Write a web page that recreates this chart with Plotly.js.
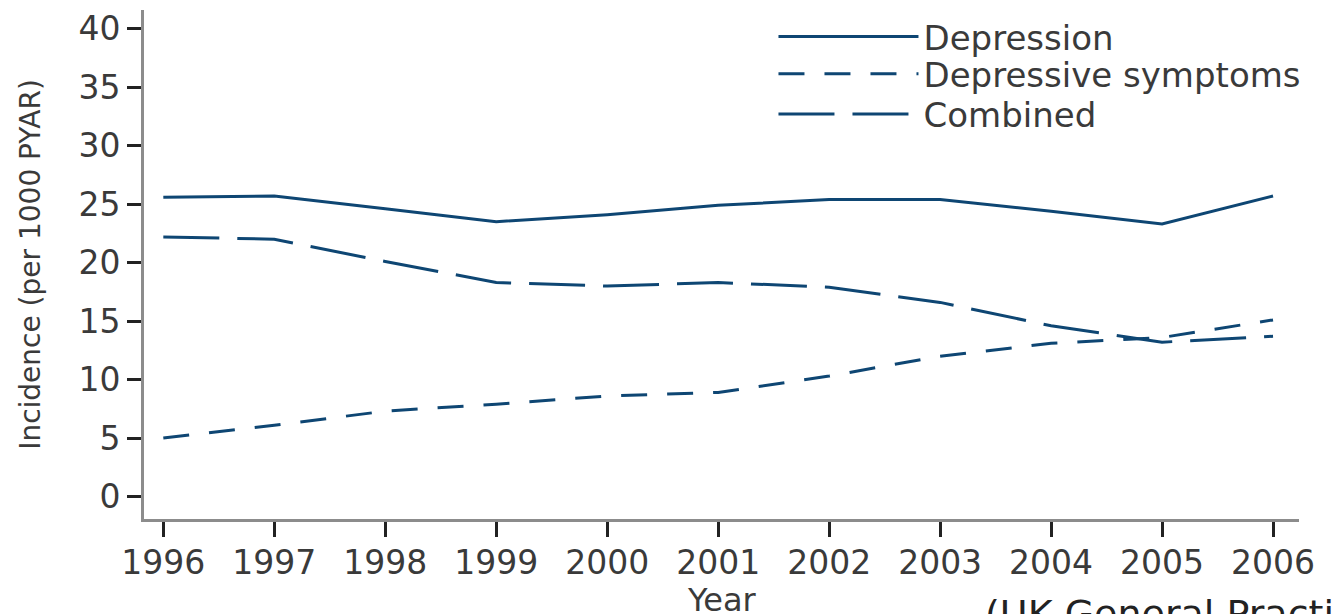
<!DOCTYPE html>
<html>
<head>
<meta charset="utf-8">
<script src="https://cdn.plot.ly/plotly-3.0.1.min.js"></script>
<style>html,body{margin:0;padding:0;background:#fff;overflow:hidden;}#chart{width:1332px;height:614px;}</style>
</head>
<body>
<div id="chart"></div>
<script>
const years = [1996, 1997, 1998, 1999, 2000, 2001, 2002, 2003, 2004, 2005, 2006];
const depression = [25.6, 25.7, 24.6, 23.5, 24.1, 24.9, 25.4, 25.4, 24.4, 23.3, 25.7];
const depressiveSymptoms = [5.0, 6.1, 7.3, 7.9, 8.6, 8.9, 10.3, 12.0, 13.1, 13.6, 15.1];
const combined = [22.2, 22.0, 20.1, 18.3, 18.0, 18.3, 17.9, 16.6, 14.6, 13.2, 13.7];
const seriesNames = ["Depression", "Depressive symptoms", "Combined"];
const yTicks = [0, 5, 10, 15, 20, 25, 30, 35, 40];

const lineColor = "#0e4673";
const font = "DejaVu Sans, sans-serif";
const textColor = "#3a3a3a";

const traces = [
  {x: years, y: depression, name: seriesNames[0], mode: "lines", legend: "legend",
   line: {color: lineColor, width: 3, dash: "solid"}},
  {x: years, y: depressiveSymptoms, name: seriesNames[1], mode: "lines", legend: "legend2",
   line: {color: lineColor, width: 3, dash: "26px,20px"}},
  {x: years, y: combined, name: seriesNames[2], mode: "lines", legend: "legend3",
   line: {color: lineColor, width: 3, dash: "56px,18px"}}
];

function legendAt(yPaper) {
  return {x: 0.545, xanchor: "left", y: yPaper, yanchor: "middle",
          bgcolor: "rgba(0,0,0,0)", itemwidth: 140,
          font: {family: font, size: 34, color: textColor}};
}

const layout = {
  width: 1332, height: 614,
  margin: {l: 144, r: 33, t: 8, b: 95, pad: 0},
  paper_bgcolor: "#fff", plot_bgcolor: "#fff",
  font: {family: font, size: 34, color: textColor},
  showlegend: true,
  legend: legendAt(0.947),
  legend2: legendAt(0.874),
  legend3: legendAt(0.795),
  xaxis: {
    range: [1995.826, 2006.234], tickmode: "array", tickvals: years,
    ticktext: years.map(String), showgrid: false, zeroline: false,
    showline: true, linecolor: "#8c8c8c", linewidth: 3,
    ticks: "outside", ticklen: 15, tickwidth: 3, tickcolor: "#222",
    tickfont: {family: font, size: 33, color: textColor},
    ticklabelstandoff: -3
  },
  yaxis: {
    range: [-1.92, 41.6], tickmode: "array", tickvals: yTicks,
    ticktext: yTicks.map(String), showgrid: false, zeroline: false,
    showline: true, linecolor: "#8c8c8c", linewidth: 3,
    ticks: "outside", ticklen: 14, tickwidth: 3, tickcolor: "#222",
    tickfont: {family: font, size: 33, color: textColor},
    title: {text: "Incidence (per 1000 PYAR)", font: {family: font, size: 28, color: textColor}, standoff: 30}
  },
  annotations: [
    {text: "Year", xref: "paper", yref: "paper", x: 0.5, y: -0.118,
     xanchor: "center", yanchor: "top", showarrow: false,
     font: {family: font, size: 32, color: textColor}},
    {text: "(UK General Practice Research Database)", xref: "paper", yref: "paper",
     x: 0.7264, y: -0.14, xanchor: "left", yanchor: "top", showarrow: false,
     font: {family: font, size: 38, color: "#222"}}
  ]
};

Plotly.newPlot("chart", traces, layout, {displayModeBar: false, staticPlot: true});
</script>
</body>
</html>
